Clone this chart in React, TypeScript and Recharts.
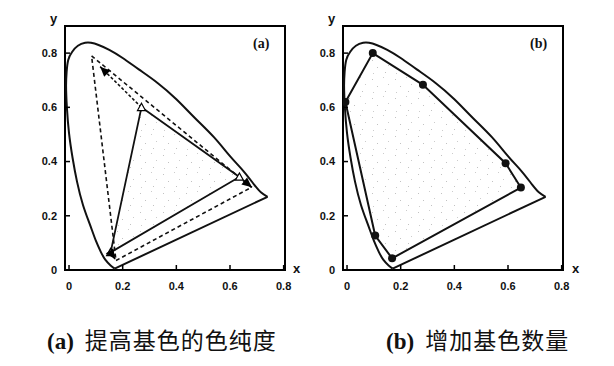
import React from 'react';
import { ComposedChart, XAxis, YAxis, Line, Area, Scatter, ReferenceArea } from 'recharts';

// ---------- data ----------
const xTicks = [0, 0.2, 0.4, 0.6, 0.8];
const yTicks = [0, 0.2, 0.4, 0.6, 0.8];
const xTickLabels = ['0', '0.2', '0.4', '0.6', '0.8'];
const yTickLabels = ['0', '0.2', '0.4', '0.6', '0.8'];
const xDomain = [-0.015, 0.805];
const yDomain = [0, 0.9];

// spectral locus (horseshoe)
const locusX = [0.17, 0.155, 0.135, 0.118, 0.1, 0.077, 0.052, 0.03, 0.013, 0.0, -0.008, -0.011, -0.009, -0.003, 0.012, 0.033, 0.06, 0.082, 0.11, 0.15, 0.2, 0.26, 0.33, 0.4, 0.47, 0.54, 0.6, 0.65, 0.69, 0.715, 0.74];
const locusY = [0.005, 0.017, 0.038, 0.068, 0.108, 0.17, 0.24, 0.325, 0.415, 0.505, 0.6, 0.68, 0.73, 0.775, 0.805, 0.827, 0.838, 0.838, 0.83, 0.812, 0.782, 0.74, 0.69, 0.63, 0.56, 0.49, 0.42, 0.365, 0.315, 0.287, 0.27];
const purpleX = [0.74, 0.17];
const purpleY = [0.27, 0.005];

// panel (a): original gamut (solid) and widened gamut (dashed)
const gamutAX = [0.27, 0.635, 0.155, 0.27];
const gamutAY = [0.6, 0.343, 0.065, 0.6];
const wideAX = [0.084, 0.68, 0.175, 0.084];
const wideAY = [0.79, 0.305, 0.035, 0.79];
const arrowFromX = [0.27, 0.635, 0.155];
const arrowFromY = [0.6, 0.343, 0.065];
const arrowToX = [0.116, 0.682, 0.172];
const arrowToY = [0.75, 0.305, 0.04];

// panel (b): gamut with more primaries
const polyBX = [-0.006, 0.096, 0.283, 0.591, 0.648, 0.168, 0.105, -0.006];
const polyBY = [0.62, 0.8, 0.683, 0.394, 0.304, 0.043, 0.127, 0.62];

const pts = (xs: number[], ys: number[]) => xs.map((x, i) => ({ x, y: ys[i] }));

const locusData = pts(locusX, locusY);
const purpleData = pts(purpleX, purpleY);
const gamutAData = pts(gamutAX, gamutAY);
const wideAData = pts(wideAX, wideAY);
const vertexAData = pts(gamutAX.slice(0, 3), gamutAY.slice(0, 3));
const arrowLines = arrowFromX.map((x, i) => pts([x, arrowToX[i]], [arrowFromY[i], arrowToY[i]]));
const arrowHeadData = arrowToX.map((x, i) => ({ x, y: arrowToY[i], dx: x - arrowFromX[i], dy: arrowToY[i] - arrowFromY[i] }));
const polyBData = pts(polyBX, polyBY);
const vertexBData = pts(polyBX.slice(0, 7), polyBY.slice(0, 7));

// ---------- styling ----------
const TICK_FONT = '"Liberation Sans", Arial, sans-serif';
const X_MARGIN = 12;
const Y_MARGIN = 8;

const BottomTick = (props: any) => {
  const { x, y, index } = props;
  const ay = y - X_MARGIN;
  return (
    <g>
      <line x1={x} x2={x} y1={ay} y2={ay - 5} stroke="#000" strokeWidth={1.5} />
      <text x={x} y={y} dy="0.71em" textAnchor="middle" fontFamily={TICK_FONT} fontWeight="bold" fontSize={11} fill="#111">
        {xTickLabels[index]}
      </text>
    </g>
  );
};

const LeftTick = (props: any) => {
  const { x, y, index } = props;
  const ax = x + Y_MARGIN;
  return (
    <g>
      <line x1={ax} x2={ax + 5} y1={y} y2={y} stroke="#000" strokeWidth={1.5} />
      <text x={x} y={y} dy="0.355em" textAnchor="end" fontFamily={TICK_FONT} fontWeight="bold" fontSize={11} fill="#111">
        {yTickLabels[index]}
      </text>
    </g>
  );
};

const OpenTri = (props: any) => {
  const { cx, cy } = props;
  const s = 4;
  return <polygon points={`${cx},${cy - s} ${cx - s},${cy + s * 0.8} ${cx + s},${cy + s * 0.8}`} fill="#fff" stroke="#000" strokeWidth={1.2} />;
};

const ArrowHead = (props: any) => {
  const { cx, cy, payload } = props;
  const ang = Math.atan2(-payload.dy, payload.dx);
  const L = 10;
  const W = 4.5;
  const bx = cx - L * Math.cos(ang);
  const by = cy - L * Math.sin(ang);
  const px = -Math.sin(ang) * W;
  const py = Math.cos(ang) * W;
  return <polygon points={`${cx},${cy} ${bx + px},${by + py} ${bx - px},${by - py}`} fill="#000" />;
};

const Dot = (props: any) => {
  const { cx, cy } = props;
  return <circle cx={cx} cy={cy} r={4} fill="#111" />;
};

const Stipple = ({ id }: { id: string }) => (
  <defs>
    <pattern id={id} width={23} height={19} patternUnits="userSpaceOnUse">
      <rect x={2} y={3} width={1} height={1} fill="#999" />
      <rect x={13} y={1} width={1} height={1} fill="#aaa" />
      <rect x={7} y={10} width={1} height={1} fill="#999" />
      <rect x={18} y={8} width={1} height={1} fill="#aaa" />
      <rect x={15} y={15} width={1} height={1} fill="#999" />
      <rect x={3} y={16} width={1} height={1} fill="#aaa" />
    </pattern>
  </defs>
);

const CHART_W = 300;
const CHART_H = 300;
const margin = { top: 26, right: 15, bottom: 0, left: 30 };

function Panel({ which }: { which: 'a' | 'b' }) {
  const pid = which === 'a' ? 'stippleA' : 'stippleB';
  return (
    <ComposedChart width={CHART_W} height={CHART_H} margin={margin}>
      <Stipple id={pid} />
      <XAxis
        type="number"
        dataKey="x"
        domain={xDomain}
        ticks={xTicks}
        allowDataOverflow
        axisLine={false}
        tickLine={false}
        tickSize={0}
        tickMargin={X_MARGIN}
        height={30}
        tick={<BottomTick />}
        interval={0}
      />
      <YAxis
        type="number"
        dataKey="y"
        domain={yDomain}
        ticks={yTicks}
        allowDataOverflow
        axisLine={false}
        tickLine={false}
        tickSize={0}
        tickMargin={Y_MARGIN}
        width={35}
        tick={<LeftTick />}
        interval={0}
      />
      {which === 'a' ? (
        <Area data={gamutAData} dataKey="y" type="linear" stroke="none" fill={`url(#${pid})`} isAnimationActive={false} dot={false} activeDot={false} />
      ) : (
        <Area data={polyBData} dataKey="y" type="linear" stroke="none" fill={`url(#${pid})`} isAnimationActive={false} dot={false} activeDot={false} />
      )}
      <ReferenceArea x1={xDomain[0]} x2={xDomain[1]} y1={yDomain[0]} y2={yDomain[1]} fill="none" stroke="#000" strokeWidth={2} fillOpacity={0} />
      <Line data={locusData} dataKey="y" type="natural" stroke="#111" strokeWidth={2} dot={false} activeDot={false} isAnimationActive={false} />
      <Line data={purpleData} dataKey="y" type="linear" stroke="#111" strokeWidth={2} dot={false} activeDot={false} isAnimationActive={false} />
      {which === 'a' && (
        <Line data={gamutAData} dataKey="y" type="linear" stroke="#111" strokeWidth={1.8} dot={false} activeDot={false} isAnimationActive={false} />
      )}
      {which === 'a' && (
        <Line data={wideAData} dataKey="y" type="linear" stroke="#111" strokeWidth={1.6} strokeDasharray="4 3" dot={false} activeDot={false} isAnimationActive={false} />
      )}
      {which === 'a' &&
        arrowLines.map((d, i) => (
          <Line key={`arr${i}`} data={d} dataKey="y" type="linear" stroke="#111" strokeWidth={1.6} strokeDasharray="3 2" dot={false} activeDot={false} isAnimationActive={false} />
        ))}
      {which === 'a' && <Scatter data={vertexAData} dataKey="y" shape={<OpenTri />} isAnimationActive={false} />}
      {which === 'a' && <Scatter data={arrowHeadData} dataKey="y" shape={<ArrowHead />} isAnimationActive={false} />}
      {which === 'b' && (
        <Line data={polyBData} dataKey="y" type="linear" stroke="#111" strokeWidth={2} dot={false} activeDot={false} isAnimationActive={false} />
      )}
      {which === 'b' && <Scatter data={vertexBData} dataKey="y" shape={<Dot />} isAnimationActive={false} />}
    </ComposedChart>
  );
}

const labelStyle: React.CSSProperties = {
  position: 'absolute',
  fontFamily: TICK_FONT,
  fontWeight: 'bold',
  fontSize: 13,
  lineHeight: '13px',
  color: '#111',
};

const tagStyle: React.CSSProperties = {
  position: 'absolute',
  fontFamily: '"Liberation Serif", serif',
  fontWeight: 'bold',
  fontSize: 14,
  lineHeight: '14px',
  color: '#111',
};

const captionStyle: React.CSSProperties = {
  position: 'absolute',
  top: 326,
  fontSize: 23,
  lineHeight: '26px',
  color: '#111',
  whiteSpace: 'nowrap',
};

export default function App() {
  return (
    <div style={{ position: 'absolute', left: 0, top: 0, width: 614, height: 366, background: '#fff', overflow: 'hidden' }}>
      <div style={{ position: 'absolute', left: 0, top: 0 }}>
        <Panel which="a" />
      </div>
      <div style={{ position: 'absolute', left: 278, top: 0 }}>
        <Panel which="b" />
      </div>
      <span style={{ ...labelStyle, left: 50, top: 12 }}>y</span>
      <span style={{ ...labelStyle, left: 293, top: 262 }}>x</span>
      <span style={{ ...labelStyle, left: 328, top: 12 }}>y</span>
      <span style={{ ...labelStyle, left: 572, top: 262 }}>x</span>
      <span style={{ ...tagStyle, left: 253, top: 37 }}>(a)</span>
      <span style={{ ...tagStyle, left: 530, top: 37 }}>(b)</span>
      <div style={{ ...captionStyle, left: 47 }}>
        <span style={{ fontFamily: '"Liberation Serif", serif', fontWeight: 'bold' }}>(a)</span>
        <span style={{ fontFamily: '"Noto Sans CJK SC", sans-serif', marginLeft: 11, letterSpacing: 1 }}>提高基色的色纯度</span>
      </div>
      <div style={{ ...captionStyle, left: 386 }}>
        <span style={{ fontFamily: '"Liberation Serif", serif', fontWeight: 'bold' }}>(b)</span>
        <span style={{ fontFamily: '"Noto Sans CJK SC", sans-serif', marginLeft: 11, letterSpacing: 1 }}>增加基色数量</span>
      </div>
    </div>
  );
}
